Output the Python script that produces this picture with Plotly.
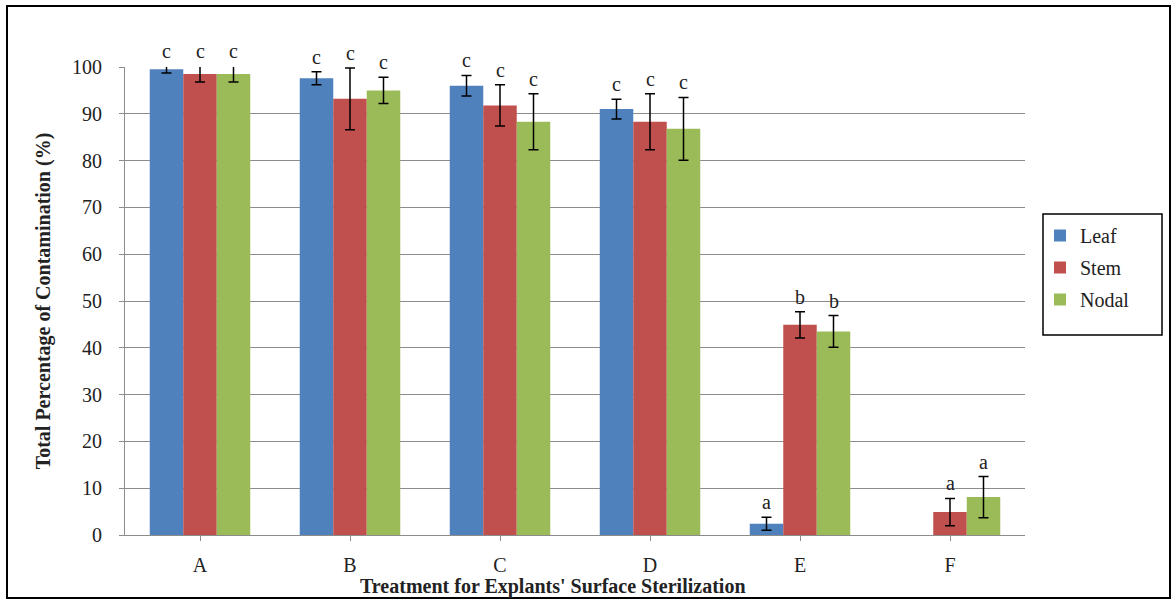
import plotly.graph_objects as go

# ---- data ----
treatments = ["A", "B", "C", "D", "E", "F"]
leaf = [99.5, 97.6, 96.0, 91.0, 2.4, 0.0]
leaf_err = [0.8, 1.4, 2.2, 2.1, 1.4, 0.0]
stem = [98.5, 93.2, 91.8, 88.3, 44.9, 4.9]
stem_err = [1.7, 6.6, 4.4, 6.0, 2.8, 2.9]
nodal = [98.5, 95.0, 88.3, 86.8, 43.5, 8.1]
nodal_err = [1.7, 2.8, 6.0, 6.7, 3.4, 4.4]
leaf_sig = ["c", "c", "c", "c", "a", ""]
stem_sig = ["c", "c", "c", "c", "b", "a"]
nodal_sig = ["c", "c", "c", "c", "b", "a"]

series = [
    ("Leaf", leaf, leaf_err, leaf_sig, "#4F81BD"),
    ("Stem", stem, stem_err, stem_sig, "#C0504D"),
    ("Nodal", nodal, nodal_err, nodal_sig, "#9BBB59"),
]

W, H = 1176, 605
ML, MR, MT, MB = 125, 151, 67, 70
PW, PH = W - ML - MR, H - MT - MB
SERIF = "Liberation Serif, Times New Roman, serif"
BARGAP = 0.33
Y_MAX = 100

def px_x(p):
    return (p - ML) / PW

def px_y(p):
    return (H - MB - p) / PH

fig = go.Figure()
for name, vals, errs, sig, col in series:
    # a zero value draws no bar (and no error whisker), as in the original
    shown = [v if v > 0 else None for v in vals]
    fig.add_trace(go.Bar(
        name=name, x=treatments, y=shown, marker_color=col,
        marker_line_width=0, legendgroup=name, cliponaxis=False,
        error_y=dict(type="data", array=errs, visible=True,
                     color="black", thickness=1.5, width=5),
    ))

bar_w = PW / len(treatments) * (1 - BARGAP) / 3
annotations = []
for i, (name, vals, errs, sig, col) in enumerate(series):
    for t, v, e, s in zip(treatments, vals, errs, sig):
        if not s:
            continue
        annotations.append(dict(
            x=t, y=(v + e) / Y_MAX, xref="x", yref="paper", text=s,
            showarrow=False, xshift=(i - 1) * bar_w,
            yanchor="bottom", yshift=2,
            font=dict(family=SERIF, size=20, color="#222"),
        ))

annotations.append(dict(
    x=px_x(553), y=px_y(586), xref="paper", yref="paper",
    text="<b>Treatment for Explants' Surface Sterilization</b>",
    showarrow=False, xanchor="center", yanchor="middle",
    font=dict(family=SERIF, size=20, color="#222"),
))

fig.update_layout(
    width=W, height=H,
    margin=dict(l=ML, r=MR, t=MT, b=MB, pad=0),
    paper_bgcolor="white", plot_bgcolor="white",
    barmode="group", bargap=BARGAP, bargroupgap=0,
    font=dict(family=SERIF, size=20, color="#222"),
    xaxis=dict(
        showline=True, linecolor="#8c8c8c", linewidth=1,
        ticks="outside", ticklen=5, tickcolor="#8c8c8c",
        ticklabelstandoff=7,
        tickfont=dict(family=SERIF, size=20, color="#222"),
        showgrid=False, fixedrange=True,
    ),
    yaxis=dict(
        range=[0, Y_MAX], dtick=10, tick0=0,
        showline=True, linecolor="#8c8c8c", linewidth=1,
        ticks="outside", ticklen=5, tickcolor="#8c8c8c",
        ticklabelstandoff=13,
        showgrid=True, gridcolor="#8c8c8c", gridwidth=1,
        zeroline=False, fixedrange=True,
        tickfont=dict(family=SERIF, size=20, color="#222"),
        title=dict(text="<b>Total Percentage of Contamination (%)</b>",
                   font=dict(family=SERIF, size=20, color="#222"),
                   standoff=16),
    ),
    showlegend=True,
    legend=dict(
        x=px_x(1040), y=px_y(216), xanchor="left", yanchor="top",
        bgcolor="rgba(0,0,0,0)", borderwidth=0,
        font=dict(family=SERIF, size=20, color="#222"),
        tracegroupgap=3, itemwidth=30,
    ),
    annotations=annotations,
    shapes=[
        dict(type="rect", xref="paper", yref="paper",
             x0=px_x(1043), x1=px_x(1162), y0=px_y(335), y1=px_y(214),
             line=dict(color="black", width=1.5), layer="above"),
        dict(type="rect", xref="paper", yref="paper",
             x0=px_x(7), x1=px_x(1170), y0=px_y(598), y1=px_y(6),
             line=dict(color="black", width=2), layer="above"),
    ],
)

fig.write_html("out.html",
               config={"displayModeBar": False},
               post_script="document.body.style.margin='0';"
                           "document.body.style.overflow='hidden';")
